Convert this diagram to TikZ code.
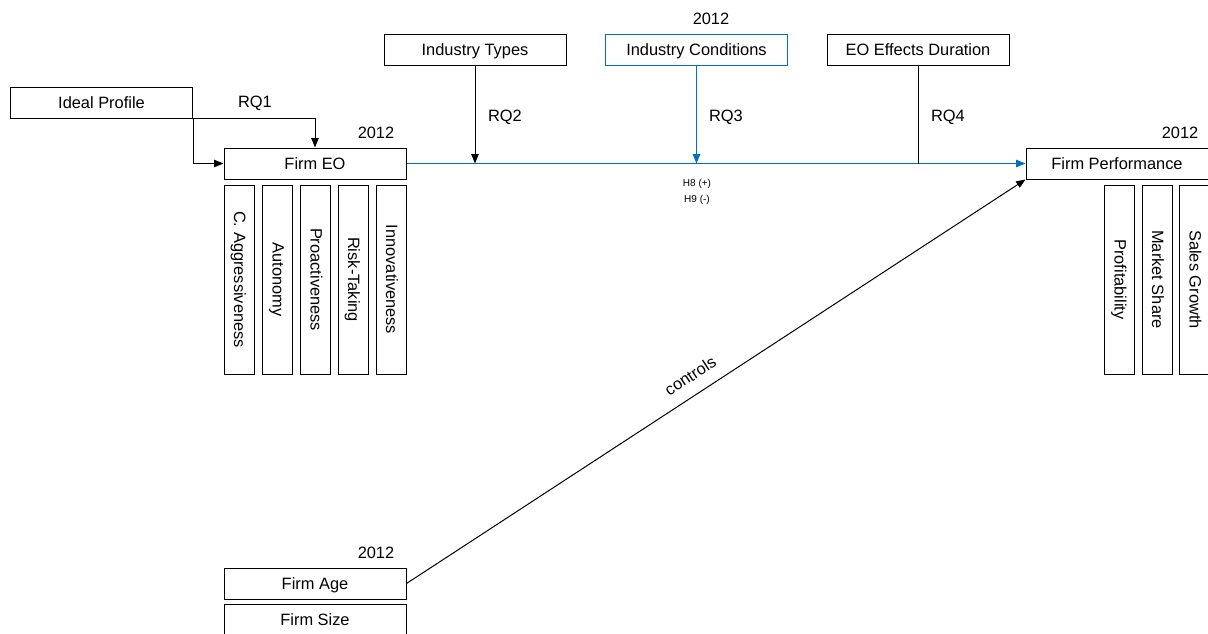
\documentclass[tikz,border=0pt]{standalone}
\usepackage{fontspec}
\setmainfont{Liberation Sans}
\usetikzlibrary{arrows.meta}
\definecolor{linkblue}{RGB}{0,112,192}

\begin{document}
\begin{tikzpicture}[x=0.75pt, y=-0.75pt]

\tikzset{
construct/.style = {rectangle, draw, line width = 0.75pt, inner sep = 0pt,
	text height = 0.95em, text depth = 0pt,
	minimum width = 136.5pt, minimum height = 23.25pt, font = \fontsize{12.3}{14}\selectfont},
dimension/.style = {rectangle, draw, line width = 0.75pt, inner sep = 0pt, rotate = -90,
	text height = 0.72em, text depth = 0pt,
	minimum width = 141.75pt, minimum height = 22.5pt, font = \fontsize{12.3}{14}\selectfont},
tag/.style = {text height = 0.95em, text depth = 0pt, font = \fontsize{12.3}{14}\selectfont},
hyp/.style = {text height = 0.72em, text depth = 0pt, font = \fontsize{7.5}{9}\selectfont},
effect/.style = {-{Triangle[length = 7pt, width = 5.5pt]}, line width = 0.75pt},
}

\useasboundingbox (0,0) rectangle (1208,633);

%% Constructs
\node at (101.5, 102.5) [construct] (ideal) {Ideal Profile};
\node at (315, 163.5) [construct] (eo) {Firm EO};
\node at (475, 49.5) [construct] (types) {Industry Types};
\node at (696.5, 49.5) [construct, draw = linkblue] (cond) {Industry Conditions};
\node at (918, 49.5) [construct] (dur) {EO Effects Duration};
\node at (1117, 163.5) [construct] (perf) {Firm Performance};
\node at (315, 583.5) [construct] (age) {Firm Age};
\node at (315, 619.5) [construct] (size) {Firm Size};

% EO dimensions
\node at (239, 279.5) [dimension] (aggr) {C. Aggressiveness};
\node at (277.5, 279.5) [dimension] (auto) {Autonomy};
\node at (315.5, 279.5) [dimension] (proact) {Proactiveness};
\node at (353, 279.5) [dimension] (risk) {Risk-Taking};
\node at (391, 279.5) [dimension] (innov) {Innovativeness};

% Performance dimensions
\node at (1119.5, 279.5) [dimension] (profit) {Profitability};
\node at (1157, 279.5) [dimension] (share) {Market Share};
\node at (1194.5, 279.5) [dimension] (growth) {Sales Growth};

%% Years
\node at (376, 132) [tag] (yeareo) {2012};
\node at (711, 18) [tag] (yearcond) {2012};
\node at (1180, 132) [tag] (yearperf) {2012};
\node at (376, 552) [tag] (yearage) {2012};

%% Effects
\draw [effect] (ideal.south east) |- (eo);
\draw [effect] (ideal.south east) -| (eo);
\path [effect, linkblue] (eo) edge (perf);
\draw [effect] (types) -- (types |- eo);
\draw [effect, linkblue] (cond) -- (cond |- eo);
\draw [line width = 0.75pt] (dur) -- (dur |- eo);
\draw [effect] (age.east) -- (perf.south west)
	node [tag, sloped, above = 6pt, pos = 0.475] (ctrl) {controls};

% Labels
\node at (255, 101.5) [tag] (rq1) {RQ1};
\node at (505, 115) [tag] (rq2) {RQ2};
\node at (726, 115) [tag] (rq3) {RQ3};
\node at (948, 115) [tag] (rq4) {RQ4};
\node at (697, 182) [hyp] (h8) {H8 (+)};
\node at (697, 198) [hyp] (h9) {H9 (-)};

\end{tikzpicture}
\end{document}
